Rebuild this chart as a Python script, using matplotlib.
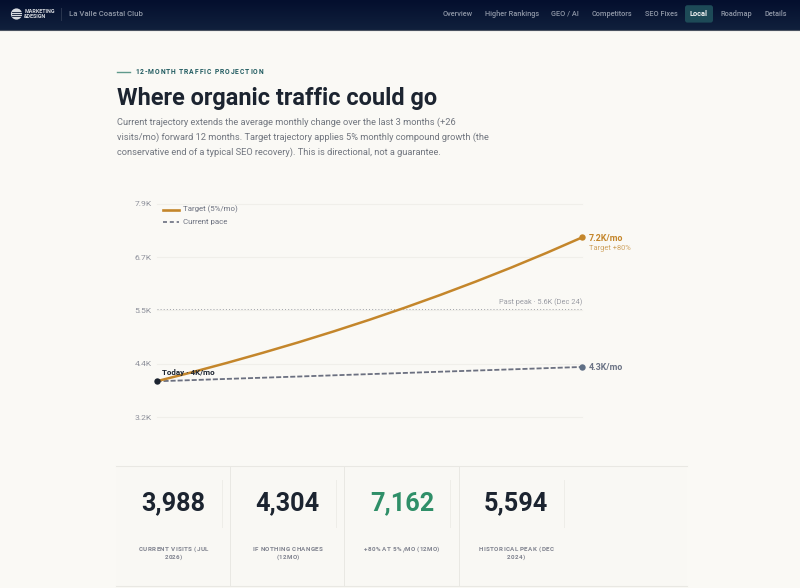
import numpy as np
import matplotlib
matplotlib.use('Agg')
import matplotlib.pyplot as plt
from matplotlib.patches import Circle, FancyBboxPatch, Rectangle

# values
months = list(range(13))
target = [3988, 4187, 4397, 4617, 4847, 5090, 5344, 5611, 5892, 6187, 6496, 6821, 7162]
current = [3988, 4014, 4041, 4067, 4093, 4120, 4146, 4172, 4199, 4225, 4251, 4278, 4304]
past_peak = 5594
y_ticks = [3200, 4375, 5550, 6725, 7900]
y_tick_labels = ['3.2K', '4.4K', '5.5K', '6.7K', '7.9K']
nav_items = ['Overview', 'Higher Rankings', 'GEO / AI', 'Competitors', 'SEO Fixes', 'Local', 'Roadmap', 'Details']
nav_x = [457.5, 512, 565, 612, 661, 699, 736, 775.5]
stat_values = ['3,988', '4,304', '7,162', '5,594']
stat_labels = ['CURRENT VISITS (JUL\n2026)', 'IF NOTHING CHANGES\n(12MO)', '+80% AT 5%/MO (12MO)', 'HISTORICAL PEAK (DEC\n2024)']
intro = ['Current trajectory extends the average monthly change over the last 3 months (+26',
         'visits/mo) forward 12 months. Target trajectory applies 5% monthly compound growth (the',
         'conservative end of a typical SEO recovery). This is directional, not a guarantee.']

BG = '#faf9f5'
INK = '#1c2430'
GOLD = '#c4862b'
SLATE = '#6b7080'
TEAL = '#1f5a5f'
GREEN = '#2f8f68'
GRID = '#f0efea'
FONT = 'Roboto'

W, H = 800, 588
fig = plt.figure(figsize=(W / 100, H / 100), dpi=100, facecolor=BG)

# page layer in pixel coordinates
page = fig.add_axes([0, 0, 1, 1])
page.set_xlim(0, W)
page.set_ylim(H, 0)
page.axis('off')


def tracked(x, y, s, spacing, ha='left', **kw):
    # letter spacing, matplotlib has none of its own. y is the baseline
    r = fig.canvas.get_renderer()
    probe = page.text(0, 0, '|', **kw)
    bar = probe.get_window_extent(r).width
    widths = []
    for i in range(len(s) + 1):
        probe.set_text(s[:i] + '|')
        widths.append(probe.get_window_extent(r).width - bar)
    probe.remove()
    total = widths[-1] + spacing * (len(s) - 1)
    x0 = x - total / 2 if ha == 'center' else x
    for i, ch in enumerate(s):
        page.text(x0 + widths[i] + spacing * i, y, ch, ha='left', va='baseline', **kw)


# header
grad = np.linspace(0, 1, 30).reshape(-1, 1)
page.imshow(grad, extent=[0, W, 30, 0], aspect='auto', zorder=1,
            cmap=matplotlib.colors.LinearSegmentedColormap.from_list('hdr', ['#040f2e', '#10203c']))
page.set_xlim(0, W)
page.set_ylim(H, 0)
page.plot([0, W], [30, 30], color='#4a5260', lw=0.8, zorder=2)
page.add_patch(Circle((16.5, 14), 5.6, fc='#d8dbe0', ec='none', zorder=3))
for dy in (-2.2, 0, 2.2):
    page.plot([11.5, 21.5], [14 + dy, 14 + dy], color='#0a1733', lw=0.6, zorder=4)
page.text(24.3, 11.5, 'MARKETING', color='#d8dbe0', fontsize=3.9, fontweight='bold', family=FONT, va='center', zorder=3)
page.text(24.3, 16.8, '&DESIGN', color='#d8dbe0', fontsize=3.9, fontweight='bold', family=FONT, va='center', zorder=3)
page.plot([60.5, 60.5], [8, 20], color='#2a364f', lw=0.7, zorder=3)
page.text(69, 13.5, 'La Valle Coastal Club', color='#8f97a6', fontsize=5.6, fontweight='medium', family=FONT,
          va='center', zorder=3)

page.add_patch(FancyBboxPatch((685, 5.2), 28, 17.4, boxstyle='round,pad=0,rounding_size=2.5',
                              fc='#1d4a57', ec='none', zorder=2))
for label, x in zip(nav_items, nav_x):
    active = label == 'Local'
    page.text(x, 14, label, ha='center', va='center', family=FONT, zorder=3,
              fontsize=5.3, color='#f2f3f3' if active else '#8d95a5',
              fontweight='bold' if active else 'medium')

# heading block
page.plot([117, 130], [72, 72], color='#5f9a8c', lw=1.0)
tracked(135, 74.2, '12-MONTH TRAFFIC PROJECTION', 0.92, color=TEAL, fontsize=4.9, fontweight='bold', family=FONT)
page.text(117, 105, 'Where organic traffic could go', color=INK, fontsize=16.9, fontweight='semibold',
          family=FONT, va='baseline')
for i, line in enumerate(intro):
    page.text(117, 122.5 + i * 15, line, color='#71767f', fontsize=6.65, family=FONT, va='center')

# chart layer, scales come from the data
left, right, top, bottom = 156.5, 582, 204, 417
ax = fig.add_axes([left / W, 1 - bottom / H, (right - left) / W, (bottom - top) / H])
ax.patch.set_alpha(0)
ax.set_xlim(months[0], months[-1])
ax.set_ylim(y_ticks[0], y_ticks[-1])
for s in ax.spines.values():
    s.set_visible(False)
ax.set_xticks([])
ax.set_yticks(y_ticks, y_tick_labels, fontsize=6.1, color='#8f929c', family=FONT)
ax.tick_params(axis='y', length=0, pad=3.5)
ax.grid(axis='y', color=GRID, lw=0.8)
ax.set_axisbelow(True)
for gl in ax.get_ygridlines():
    gl.set_clip_on(False)

ax.plot(months, [past_peak] * len(months), color='#a0a2a8', lw=0.7, ls=(0, (1, 2.2)), zorder=2)
ax.plot(months, current, color=SLATE, lw=1.3, ls=(0, (2.8, 1.1)), zorder=3, clip_on=False)
ax.plot(months, target, color=GOLD, lw=1.8, zorder=4, clip_on=False)
ax.plot(months[0], target[0], 'o', color=INK, ms=4.6, mec='none', zorder=6, clip_on=False)
ax.plot(months[-1], target[-1], 'o', color=GOLD, ms=4.6, mec='none', zorder=6, clip_on=False)
ax.plot(months[-1], current[-1], 'o', color='#5f6f85', ms=4.6, mec='none', zorder=6, clip_on=False)

ax.annotate('Today · 4K/mo', (months[0], target[0]), xytext=(4, 3.9), textcoords='offset points',
            fontsize=5.8, fontweight='bold', color=INK, family=FONT, va='bottom', zorder=7)
ax.annotate('7.2K/mo', (months[-1], target[-1]), xytext=(4.8, -0.4), textcoords='offset points',
            fontsize=6.4, fontweight='bold', color=GOLD, family=FONT, va='center', annotation_clip=False)
ax.annotate('Target +80%', (months[-1], target[-1]), xytext=(4.8, -7.8), textcoords='offset points',
            fontsize=5.4, color='#cfa361', family=FONT, va='center', annotation_clip=False)
ax.annotate('4.3K/mo', (months[-1], current[-1]), xytext=(4.8, -0.5), textcoords='offset points',
            fontsize=6.4, fontweight='bold', color='#6b7385', family=FONT, va='center', annotation_clip=False)
ax.annotate('Past peak · 5.6K (Dec 24)', (months[-1], past_peak), xytext=(0, 1.8), textcoords='offset points',
            fontsize=5.3, color='#9a9ca4', family=FONT, ha='right', va='bottom', annotation_clip=False)

# legend drawn by hand in page pixels
page.plot([163, 179], [209.5, 209.5], color=GOLD, lw=1.9)
page.text(183, 209.5, 'Target (5%/mo)', fontsize=5.7, color='#6d7280', family=FONT, va='center')
page.plot([163, 179], [222, 222], color=SLATE, lw=1.2, ls=(0, (2.4, 1.7)))
page.text(183, 222, 'Current pace', fontsize=5.7, color='#6d7280', family=FONT, va='center')

# stat row
page.add_patch(Rectangle((116, 466), 571, 120, fc='#f9f8f4', ec='none', zorder=0))
page.plot([116, 687], [466, 466], color='#e9e8e3', lw=0.8)
page.plot([116, 687], [586, 586], color='#e9e8e3', lw=0.8)
cell_w = 114.2
for i, (val, lab) in enumerate(zip(stat_values, stat_labels)):
    x0 = 116 + i * cell_w
    if i:
        page.plot([x0, x0], [466, 586], color='#e9e8e3', lw=0.7)
    page.plot([x0 + 105.5, x0 + 105.5], [480, 527], color='#eeede8', lw=0.7)
    page.text(x0 + 57.5, 503, val, ha='center', va='center', fontsize=18.2, fontweight='semibold',
              family=FONT, color=GREEN if i == 2 else INK)
    for j, part in enumerate(lab.split('\n')):
        tracked(x0 + 57.5, 551 + j * 7.7, part, 0.33, ha='center', color='#80838f', fontsize=4.5,
                fontweight='bold', family=FONT)

fig.savefig('out.png', dpi=100, facecolor=BG)
